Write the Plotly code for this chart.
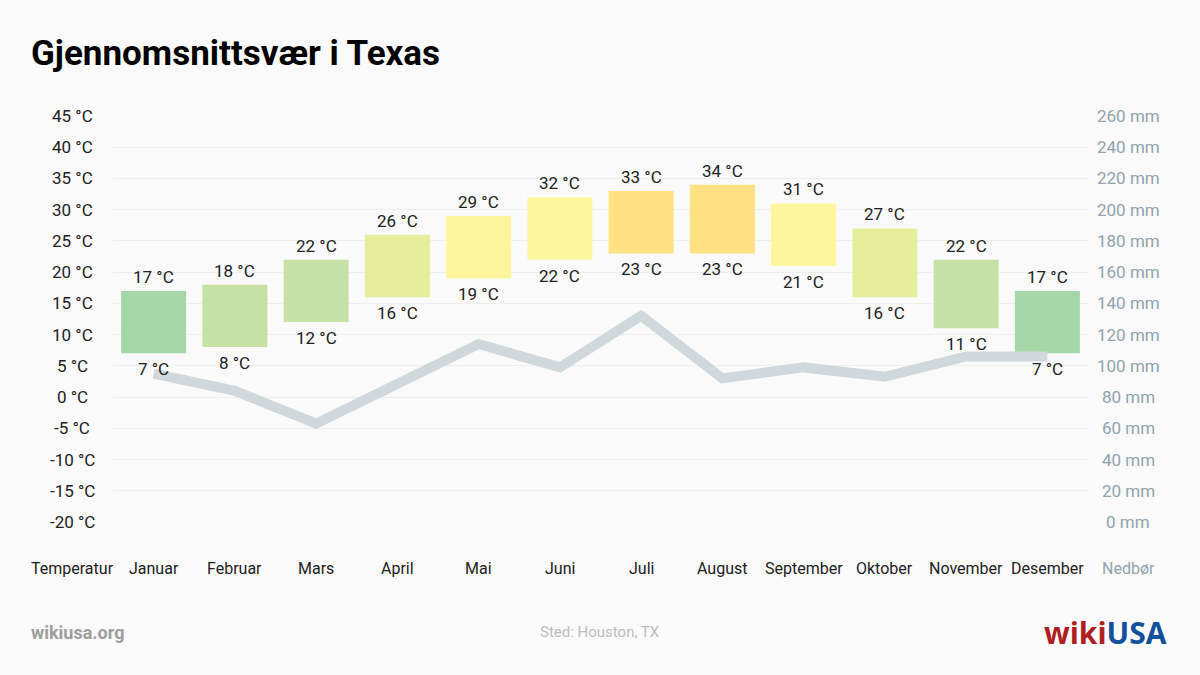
import math
import plotly.graph_objects as go

months = ["Januar", "Februar", "Mars", "April", "Mai", "Juni", "Juli",
          "August", "September", "Oktober", "November", "Desember"]
temp_max = [17, 18, 22, 26, 29, 32, 33, 34, 31, 27, 22, 17]
temp_min = [7, 8, 12, 16, 19, 22, 23, 23, 21, 16, 11, 7]
precip_mm = [95, 84, 63, 89, 114, 99, 132, 92, 99, 93, 106, 106]
temp_ticks = [-20, -15, -10, -5, 0, 5, 10, 15, 20, 25, 30, 35, 40, 45]
precip_ticks = [0, 20, 40, 60, 80, 100, 120, 140, 160, 180, 200, 220, 240, 260]

bar_colors = ["#a5d6a7", "#c5e1a5", "#c5e1a5", "#e6ee9c", "#fff59d", "#fff59d",
              "#ffe082", "#ffe082", "#fff59d", "#e6ee9c", "#c5e1a5", "#a5d6a7"]

FONT = "Roboto, Liberation Sans, sans-serif"
TXT = "#212121"
BLUEGREY = "#90a4ae"

W, H = 1200, 675
PL, PR, PT, PB = 113, 1088, 116, 522  # plot area in pixels


def px(xp):
    return (xp - PL) / (PR - PL)


def py(yp):
    return (PB - yp) / (PB - PT)


fig = go.Figure()
fig.add_trace(go.Bar(
    x=months, y=[hi - lo for hi, lo in zip(temp_max, temp_min)], base=temp_min,
    marker=dict(color=bar_colors, line=dict(width=0)), width=0.8,
    hoverinfo="skip", showlegend=False, yaxis="y"))
fig.add_trace(go.Scatter(
    x=months, y=precip_mm, mode="lines", yaxis="y2",
    line=dict(color="#cfd8dc", width=10), hoverinfo="skip", showlegend=False))

ann = []
for m, hi, lo in zip(months, temp_max, temp_min):
    ann.append(dict(x=m, y=hi, xref="x", yref="y", text=f"{hi} °C", showarrow=False,
                    yanchor="bottom", yshift=2, font=dict(family=FONT, size=17, color=TXT)))
    ann.append(dict(x=m, y=lo, xref="x", yref="y", text=f"{lo} °C", showarrow=False,
                    yanchor="top", yshift=-4, font=dict(family=FONT, size=17, color=TXT)))
xl = px(72)
xr = px(1128)
for v in temp_ticks:
    ann.append(dict(x=xl, y=v, xref="paper", yref="y", text=f"{v} °C", showarrow=False,
                    xanchor="center", yanchor="middle", font=dict(family=FONT, size=17, color=TXT)))
for v in precip_ticks:
    ann.append(dict(x=xr, y=v, xref="paper", yref="y2", text=f"{v} mm", showarrow=False,
                    xanchor="center", yanchor="middle", font=dict(family=FONT, size=17, color=BLUEGREY)))
for m in months:
    ann.append(dict(x=m, y=0, xref="x", yref="paper", text=m, showarrow=False,
                    yanchor="middle", yshift=-46, font=dict(family=FONT, size=16, color=TXT)))
ann.append(dict(x=xl, y=0, xref="paper", yref="paper", text="Temperatur", showarrow=False,
                xanchor="center", yanchor="middle", yshift=-46, font=dict(family=FONT, size=16, color=TXT)))
ann.append(dict(x=xr, y=0, xref="paper", yref="paper", text="Nedbør", showarrow=False,
                xanchor="center", yanchor="middle", yshift=-46, font=dict(family=FONT, size=16, color=BLUEGREY)))
# title and footer
ann.append(dict(x=px(29), y=py(53), xref="paper", yref="paper",
                text="<b>Gjennomsnittsvær i Texas</b>", showarrow=False,
                xanchor="left", yanchor="middle", font=dict(family=FONT, size=35, color="#000000")))
ann.append(dict(x=px(29), y=py(632), xref="paper", yref="paper",
                text="<b>wikiusa.org</b>", showarrow=False,
                xanchor="left", yanchor="middle", font=dict(family=FONT, size=18, color="#9e9e9e")))
ann.append(dict(x=px(600), y=py(632), xref="paper", yref="paper",
                text="Sted: Houston, TX", showarrow=False,
                xanchor="center", yanchor="middle", font=dict(family=FONT, size=15, color="#bdbdbd")))
ann.append(dict(x=px(1169), y=py(632), xref="paper", yref="paper",
                text="<b><span style='color:#b01e23'>wiki</span><span style='color:#13519c'>USA</span></b>",
                showarrow=False, xanchor="right", yanchor="middle",
                font=dict(family="Open Sans, Roboto, sans-serif", size=30, color="#13519c")))

# small white star inside the "A" of the logo (decoration)
pts = []
for i in range(10):
    r = 4.5 if i % 2 == 0 else 1.9
    a = math.pi / 2 + i * math.pi / 5
    pts.append((r * math.cos(a), r * math.sin(a)))
star_path = "M " + " L ".join(f"{x:.2f},{y:.2f}" for x, y in pts) + " Z"
shapes = [dict(type="path", xref="paper", yref="paper", xsizemode="pixel", ysizemode="pixel",
               xanchor=px(1157), yanchor=py(628), path=star_path,
               fillcolor="#ffffff", line=dict(width=0), layer="above")]

fig.update_layout(
    width=W, height=H,
    paper_bgcolor="#fafafa", plot_bgcolor="#fafafa",
    margin=dict(l=PL, r=W - PR, t=PT, b=H - PB, pad=0),
    xaxis=dict(showgrid=False, showticklabels=False, zeroline=False, showline=False,
               range=[-0.5, 11.5]),
    yaxis=dict(range=[-20, 45], tickvals=temp_ticks, showticklabels=False,
               gridcolor="#eeeeee", gridwidth=1, zeroline=False, showline=False),
    yaxis2=dict(range=[0, 260], overlaying="y", side="right", showticklabels=False,
                showgrid=False, zeroline=False, showline=False),
    annotations=ann,
    shapes=shapes,
)

fig.write_html("out.html", config={"displayModeBar": False},
               post_script="document.body.style.margin='0';document.body.style.background='#fafafa';")
